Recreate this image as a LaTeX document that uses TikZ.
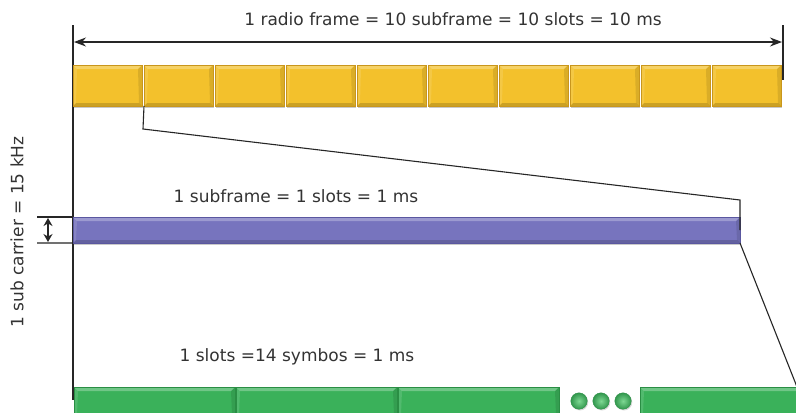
\documentclass[tikz,border=0pt]{standalone}
\usepackage{fontspec}
\setmainfont{DejaVu Sans}
\usetikzlibrary{arrows.meta,shadows}
\definecolor{txt}{HTML}{333333}
\definecolor{ylw}{HTML}{F3C12C}
\definecolor{ylwedge}{HTML}{C9961C}
\definecolor{prp}{HTML}{7774BE}
\definecolor{prpedge}{HTML}{5A57A0}
\definecolor{grn}{HTML}{3AB15A}
\definecolor{grnedge}{HTML}{2A8E44}
\definecolor{dotin}{HTML}{7ED893}
\tikzset{
  bevel/.style={rectangle, inner sep=0pt, outer sep=0pt, anchor=north west, line width=.5bp,
    drop shadow={shadow xshift=1.2bp, shadow yshift=-1.5bp, opacity=.35, fill=black!60},
    path picture={
      \fill[white,opacity=.28] (path picture bounding box.north west) -- (path picture bounding box.north east)
        -- ([xshift=-4bp,yshift=-4bp]path picture bounding box.north east) -- ([xshift=4bp,yshift=-4bp]path picture bounding box.north west) -- cycle;
      \fill[black,opacity=.16] (path picture bounding box.south west) -- (path picture bounding box.south east)
        -- ([xshift=-3bp,yshift=3bp]path picture bounding box.south east) -- ([xshift=3bp,yshift=3bp]path picture bounding box.south west) -- cycle;
      \fill[black,opacity=.10] (path picture bounding box.north east) -- (path picture bounding box.south east)
        -- ([xshift=-3bp,yshift=3bp]path picture bounding box.south east) -- ([xshift=-4bp,yshift=-4bp]path picture bounding box.north east) -- cycle;
      \fill[white,opacity=.12] (path picture bounding box.north west) -- (path picture bounding box.south west)
        -- ([xshift=3bp,yshift=3bp]path picture bounding box.south west) -- ([xshift=4bp,yshift=-4bp]path picture bounding box.north west) -- cycle;
    }},
  ybox/.style={bevel, minimum width=69bp, minimum height=41bp, fill=ylw, draw=ylwedge},
  pbox/.style={bevel, minimum width=667bp, minimum height=26bp, fill=prp, draw=prpedge},
  gbox/.style={bevel, minimum height=30bp, fill=grn, draw=grnedge},
  dot/.style={circle, inner sep=0pt, minimum size=16.5bp, draw=grnedge, line width=.3bp,
    inner color=dotin, outer color=grn!85!black,
    drop shadow={shadow xshift=1bp, shadow yshift=-1.2bp, opacity=.3}},
  lbl/.style={text=txt, font=\fontsize{17bp}{20bp}\selectfont, inner sep=0pt},
  conn/.style={draw=black!85, line width=1.1bp},
}
\begin{document}
\begin{tikzpicture}[x=1bp,y=-1bp]
\clip (0,0) rectangle (796,412);
\fill[white] (0,0) rectangle (796,412);
% left and right reference lines
\coordinate (lt) at (73,25);
\coordinate (lb) at (73,400);
\coordinate (rt) at (783,25);
\coordinate (rb) at (783,80);
\draw[conn] (lt) -- (lb);
\draw[conn] (rt) -- (rb);
% yellow frame
\foreach \i in {1,...,10} {
  \node[ybox] (y\i) at ({73+71*(\i-1)},65) {};
}
% purple subframe
\node[pbox] (p) at (73,217) {};
% green slots
\node[gbox, minimum width=161bp] (g1) at (74,387) {};
\node[gbox, minimum width=161bp] (g2) at (236,387) {};
\node[gbox, minimum width=161bp] (g3) at (398,387) {};
\node[gbox, minimum width=170bp] (g4) at (640,387) {};
\node[dot] (d1) at (579,401) {};
\node[dot] (d2) at (601,401) {};
\node[dot] (d3) at (623,401) {};
% top dimension arrow
\coordinate (al) at (74,42);
\coordinate (ar) at (782,42);
\draw[conn, {Stealth[length=12bp,width=9bp]}-{Stealth[length=12bp,width=9bp]}] (al) -- (ar);
\node[lbl] (t1) at (453,19) {1 radio frame = 10 subframe = 10 slots = 10 ms};
% zoom connectors
\coordinate (k1) at (143,129);
\coordinate (k2) at (740,200);
\draw[conn] (y2.south west) -- (k1) -- (k2) -- (p.east);
\coordinate (k3) at (799,392);
\draw[conn] (p.south east) -- (k3);
\node[lbl] (t2) at (296,196) {1 subframe = 1 slots = 1 ms};
\node[lbl] (t3) at (297,357) {1 slots =14 symbos = 1 ms};
% sub carrier dimension
\coordinate (h1) at (37,217);
\coordinate (h2) at (37,243);
\draw[conn] (h1) -- (p.north west);
\draw[conn] (h2) -- (p.south west);
\draw[conn, {Stealth[length=8bp,width=9bp]}-{Stealth[length=8bp,width=9bp]}] (48,218) -- (48,242);
\node[lbl, rotate=90] (t4) at (17,232) {1 sub carrier = 15 kHz};
\end{tikzpicture}
\end{document}
